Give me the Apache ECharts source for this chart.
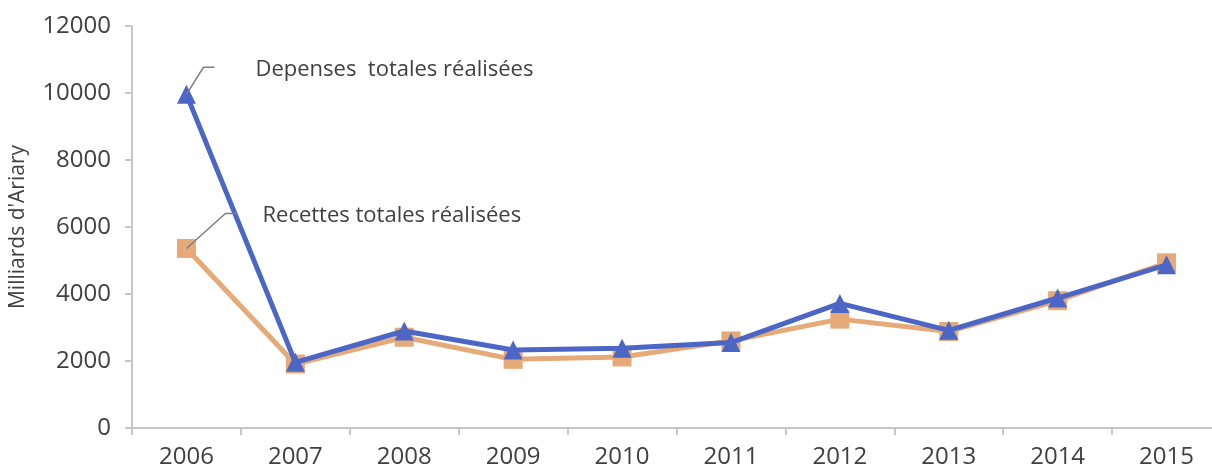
<!DOCTYPE html>
<html>
<head>
<meta charset="utf-8">
<script src="https://cdn.jsdelivr.net/npm/echarts@6/dist/echarts.min.js"></script>
<style>
  html, body { margin: 0; padding: 0; background: #ffffff; }
  #chart { width: 1212px; height: 468px; }
</style>
</head>
<body>
<div id="chart"></div>
<script>
// Years on the horizontal axis
const years = ['2006', '2007', '2008', '2009', '2010', '2011', '2012', '2013', '2014', '2015'];
// Realised revenue and spending, billions of ariary
const recettes = [5360, 1910, 2710, 2050, 2120, 2600, 3250, 2880, 3800, 4930];
const depenses = [9960, 1960, 2895, 2330, 2380, 2550, 3720, 2915, 3880, 4870];
// Value axis ticks
const yTicks = [0, 2000, 4000, 6000, 8000, 10000, 12000];

const labelDepenses = 'Depenses  totales réalisées';
const labelRecettes = 'Recettes totales réalisées';

const FONT = '"Open Sans", "Liberation Sans", sans-serif';
const TEXT = '#404040';
const AXIS = '#c6c6c6';
const BLUE = '#4c66c6';
const ORANGE = '#e6a978';

const chart = echarts.init(document.getElementById('chart'), null, { renderer: 'canvas' });

chart.setOption({
  animation: false,
  backgroundColor: '#ffffff',
  grid: { left: 132, right: -9, top: 26, bottom: 40, containLabel: false, outerBoundsMode: 'none' },
  xAxis: {
    type: 'category',
    data: years,
    boundaryGap: true,
    axisLine: { lineStyle: { color: AXIS, width: 2 } },
    axisTick: { show: true, length: 7, alignWithLabel: false, lineStyle: { color: AXIS, width: 2 } },
    axisLabel: { color: TEXT, fontFamily: FONT, fontSize: 24, margin: 17 },
    splitLine: { show: false }
  },
  yAxis: {
    type: 'value',
    min: yTicks[0],
    max: yTicks[yTicks.length - 1],
    interval: yTicks[1] - yTicks[0],
    name: "Milliards d'Ariary",
    nameLocation: 'middle',
    nameRotate: 90,
    nameGap: 103,
    nameTextStyle: { color: TEXT, fontFamily: FONT, fontSize: 21 },
    axisLine: { show: true, lineStyle: { color: AXIS, width: 2 } },
    axisTick: { show: true, length: 7, lineStyle: { color: AXIS, width: 2 } },
    axisLabel: { color: TEXT, fontFamily: FONT, fontSize: 24, margin: 21, formatter: (v) => String(v) },
    splitLine: { show: false }
  },
  series: [
    {
      name: labelRecettes,
      type: 'line',
      data: recettes,
      symbol: 'rect',
      symbolSize: 19,
      lineStyle: { color: ORANGE, width: 5 },
      itemStyle: { color: ORANGE },
      z: 2
    },
    {
      name: labelDepenses,
      type: 'line',
      data: depenses,
      symbol: 'triangle',
      symbolSize: [19, 19],
      lineStyle: { color: BLUE, width: 5 },
      itemStyle: { color: BLUE },
      z: 3
    }
  ]
});

// Callouts with leader lines, anchored on the first point of each series
function callout(value, text, bend, tail, textGap) {
  const p = chart.convertToPixel({ xAxisIndex: 0, yAxisIndex: 0 }, [years[0], value]);
  const knee = [p[0] + bend[0], p[1] + bend[1]];
  const end = [knee[0] + tail, knee[1]];
  return [
    {
      type: 'polyline',
      shape: { points: [p, knee, end] },
      style: { stroke: '#7f7f7f', lineWidth: 1.5, fill: null },
      z: 10
    },
    {
      type: 'text',
      x: end[0] + textGap[0],
      y: end[1] + textGap[1],
      style: { text: text, fill: TEXT, font: '22px ' + FONT, textVerticalAlign: 'middle' },
      z: 10
    }
  ];
}

chart.setOption({
  graphic: [].concat(
    callout(depenses[0], labelDepenses, [17, -27], 11, [41, 2]),
    callout(recettes[0], labelRecettes, [39, -35], 12, [25, 2])
  )
});
</script>
</body>
</html>
